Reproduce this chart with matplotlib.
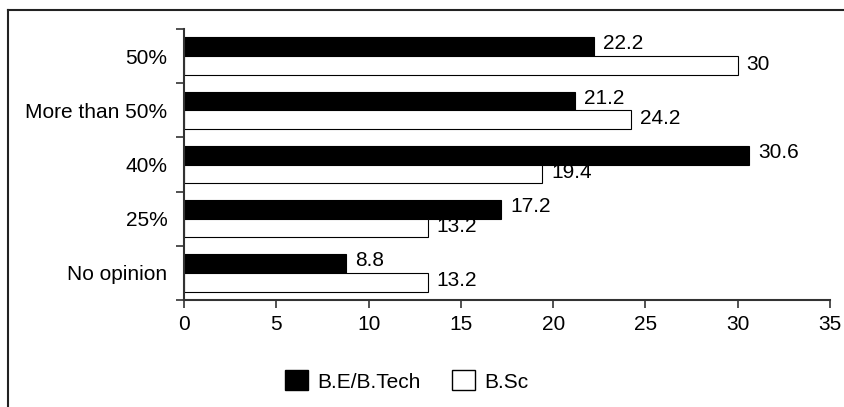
import matplotlib
matplotlib.use("Agg")
import matplotlib.pyplot as plt
import numpy as np
from matplotlib.lines import Line2D
from matplotlib.patches import Patch

categories = ["50%", "More than 50%", "40%", "25%", "No opinion"]
be_btech = [22.2, 21.2, 30.6, 17.2, 8.8]
bsc = [30, 24.2, 19.4, 13.2, 13.2]
series_names = ["B.E/B.Tech", "B.Sc"]
xticks = [0, 5, 10, 15, 20, 25, 30, 35]

plt.rcParams['font.family'] = ['Liberation Sans', 'DejaVu Sans']
fs = 15

fig = plt.figure(figsize=(8.45, 4.07), dpi=100)
ax = fig.add_axes([184/845, 1-300/407, (830-184)/845, (300-29)/407])

n = len(categories)
ypos = np.arange(n)[::-1].astype(float)
h = 0.345
b1 = ax.barh(ypos + h/2, be_btech, height=h, color='black', edgecolor='black', linewidth=0.8)
b2 = ax.barh(ypos - h/2, bsc, height=h, color='white', edgecolor='black', linewidth=0.8)

for rect, v in zip(b1, be_btech):
    ax.annotate(f"{v:g}", (v, rect.get_y() + rect.get_height()/2), xytext=(6.5, 2),
                textcoords='offset points', va='center', ha='left', fontsize=fs)
for rect, v in zip(b2, bsc):
    ax.annotate(f"{v:g}", (v, rect.get_y() + rect.get_height()/2), xytext=(6.5, 1),
                textcoords='offset points', va='center', ha='left', fontsize=fs)

ax.set_xlim(0, 35)
ax.set_ylim(-0.5, n - 0.5)
ax.set_xticks(xticks)
ax.set_xticklabels([str(t) for t in xticks], fontsize=fs)
ax.set_yticks(ypos)
ax.set_yticklabels(categories, fontsize=fs)
ax.set_yticks(np.arange(n + 1) - 0.5, minor=True)
ax.tick_params(axis='y', which='major', length=0, pad=12)
ax.tick_params(axis='y', which='minor', length=6, width=1.2, color='#333333')
ax.tick_params(axis='x', length=6, width=1.2, color='#333333', pad=5)
for s in ['top', 'right']:
    ax.spines[s].set_visible(False)
for s in ['left', 'bottom']:
    ax.spines[s].set_linewidth(1.5)
    ax.spines[s].set_color('#333333')

handles = [Patch(facecolor='black', edgecolor='black', label=series_names[0]),
           Patch(facecolor='white', edgecolor='black', label=series_names[1])]
fig.legend(handles=handles, loc='center', bbox_to_anchor=(407/845, 1-381/407), ncol=2,
           frameon=False, fontsize=fs, handlelength=1.1, handleheight=1.1,
           columnspacing=1.5, handletextpad=0.45, borderpad=0, borderaxespad=0)

fig.add_artist(Line2D([8/845, 8/845], [0, 1-10/407], transform=fig.transFigure, color='#222222', lw=1.5))
fig.add_artist(Line2D([8/845, 1], [1-10/407, 1-10/407], transform=fig.transFigure, color='#222222', lw=1.5))

fig.savefig("out.png", dpi=100)
